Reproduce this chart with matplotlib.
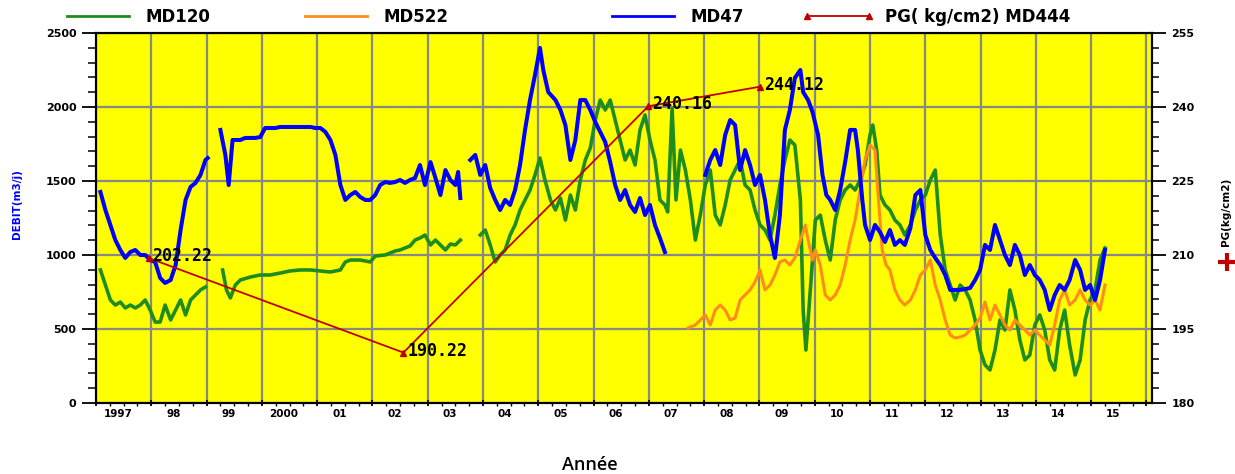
import numpy as np
import matplotlib
matplotlib.use("Agg")
import matplotlib.pyplot as plt
from matplotlib.lines import Line2D
from matplotlib.ticker import MultipleLocator, NullFormatter

nan = float("nan")

# ---------------- data ----------------
md47_years = [1997.08, 1997.17, 1997.26, 1997.35, 1997.44, 1997.53, 1997.62, 1997.71, 1997.80, 1997.89,
              1997.98, 1998.07, 1998.16, 1998.25, 1998.35, 1998.44, 1998.53, 1998.62, 1998.71, 1998.80,
              1998.89, 1998.98, 1999.02, 1999.10,
              1999.25, 1999.34, 1999.40, 1999.47, 1999.61, 1999.70, 1999.79, 1999.88, 1999.97, 2000.06,
              2000.15, 2000.24, 2000.33, 2000.42, 2000.51, 2000.60, 2000.69, 2000.79, 2000.88, 2000.97,
              2001.06, 2001.15, 2001.24, 2001.33, 2001.42, 2001.51, 2001.60, 2001.69, 2001.78, 2001.87,
              2001.96, 2002.05, 2002.14, 2002.23, 2002.32, 2002.41, 2002.50, 2002.59, 2002.68, 2002.77,
              2002.86, 2002.95, 2003.05, 2003.14, 2003.23, 2003.32, 2003.41, 2003.50, 2003.55, 2003.59,
              2003.68,
              2003.77, 2003.86, 2003.95, 2004.04, 2004.13, 2004.22, 2004.31, 2004.40, 2004.49, 2004.58,
              2004.67, 2004.76, 2004.85, 2004.94, 2005.03, 2005.09, 2005.18, 2005.31, 2005.40, 2005.49,
              2005.58, 2005.67, 2005.76, 2005.85, 2005.94, 2006.03, 2006.12, 2006.21, 2006.30, 2006.39,
              2006.48, 2006.57, 2006.66, 2006.75, 2006.84, 2006.93, 2007.02, 2007.11, 2007.20, 2007.29,
              2007.60,
              2008.02, 2008.11, 2008.20, 2008.29, 2008.38, 2008.47, 2008.56, 2008.65, 2008.74, 2008.83,
              2008.92, 2009.01, 2009.10, 2009.19, 2009.28, 2009.37, 2009.46, 2009.55, 2009.64, 2009.74,
              2009.79, 2009.88, 2009.96, 2010.06, 2010.14, 2010.21, 2010.28, 2010.37, 2010.46, 2010.55,
              2010.64, 2010.73, 2010.78, 2010.86, 2010.91, 2011.00, 2011.09, 2011.18, 2011.27, 2011.36,
              2011.45, 2011.54, 2011.63, 2011.73, 2011.82, 2011.91, 2012.00, 2012.09, 2012.18, 2012.27,
              2012.36, 2012.45, 2012.54, 2012.63, 2012.72, 2012.81, 2012.90, 2012.99, 2013.08, 2013.17,
              2013.26, 2013.35, 2013.44, 2013.53, 2013.62, 2013.71, 2013.80, 2013.89, 2013.98, 2014.07,
              2014.16, 2014.25, 2014.34, 2014.43, 2014.52, 2014.61, 2014.71, 2014.80, 2014.89, 2014.98,
              2015.07, 2015.16, 2015.25]
md47_values = [1426, 1304, 1203, 1101, 1034, 980, 1020, 1034, 1000, 1000,
               966, 953, 845, 811, 831, 932, 1169, 1372, 1460, 1487,
               1541, 1642, 1655, nan,
               1845, 1676, 1473, 1777, 1777, 1791, 1791, 1791, 1797, 1858,
               1858, 1858, 1865, 1865, 1865, 1865, 1865, 1865, 1865, 1858,
               1858, 1831, 1777, 1676, 1473, 1372, 1405, 1426, 1392, 1372,
               1372, 1405, 1473, 1493, 1487, 1493, 1507, 1487, 1507, 1520,
               1608, 1473, 1628, 1520, 1405, 1574, 1507, 1473, 1561, 1385,
               nan,
               1642, 1676, 1541, 1608, 1453, 1372, 1304, 1372, 1338, 1439,
               1608, 1845, 2047, 2216, 2399, 2250, 2101, 2047, 1980, 1878,
               1642, 1777, 2047, 2047, 1980, 1899, 1831, 1764, 1628, 1473,
               1372, 1439, 1338, 1291, 1385, 1270, 1338, 1203, 1115, 1020,
               nan,
               1541, 1642, 1709, 1608, 1811, 1912, 1878, 1574, 1709, 1608,
               1473, 1541, 1372, 1135, 980, 1270, 1845, 1980, 2196, 2250,
               2101, 2047, 1966, 1811, 1541, 1405, 1372, 1304, 1439, 1628,
               1845, 1845, 1709, 1372, 1203, 1101, 1203, 1155, 1088, 1169,
               1068, 1101, 1068, 1182, 1405, 1439, 1135, 1034, 980, 932,
               865, 764, 764, 764, 770, 777, 831, 899, 1068, 1034,
               1203, 1101, 1000, 932, 1068, 1000, 865, 932, 865, 831,
               764, 628, 730, 797, 764, 831, 966, 899, 764, 797,
               696, 831, 1034]

md120_years = [1997.08, 1997.17, 1997.26, 1997.35, 1997.44, 1997.53, 1997.62, 1997.71, 1997.80, 1997.89,
               1997.98, 1998.07, 1998.16, 1998.25, 1998.35, 1998.44, 1998.53, 1998.62, 1998.71, 1998.80,
               1998.89, 1998.98, 1999.10,
               1999.29, 1999.36, 1999.43, 1999.52, 1999.61, 1999.79, 1999.97, 2000.15, 2000.33, 2000.51,
               2000.69, 2000.88, 2001.06, 2001.24, 2001.42, 2001.51, 2001.60, 2001.78, 2001.96, 2002.05,
               2002.23, 2002.41, 2002.50, 2002.68, 2002.77, 2002.86, 2002.95, 2003.05, 2003.14, 2003.23,
               2003.32, 2003.41, 2003.50, 2003.59, 2003.77,
               2003.95, 2004.04, 2004.13, 2004.22, 2004.31, 2004.40, 2004.49, 2004.58, 2004.67, 2004.76,
               2004.85, 2004.94, 2005.03, 2005.12, 2005.22, 2005.31, 2005.40, 2005.49, 2005.58, 2005.67,
               2005.76, 2005.85, 2005.94, 2006.03, 2006.12, 2006.21, 2006.30, 2006.39, 2006.48, 2006.57,
               2006.66, 2006.75, 2006.84, 2006.93, 2007.02, 2007.11, 2007.20, 2007.29, 2007.34, 2007.42,
               2007.49, 2007.57, 2007.66, 2007.75, 2007.84, 2007.93, 2008.02, 2008.11, 2008.20, 2008.29,
               2008.38, 2008.47, 2008.56, 2008.65, 2008.74, 2008.83, 2008.92, 2009.01, 2009.10, 2009.19,
               2009.28, 2009.37, 2009.46, 2009.55, 2009.64, 2009.74, 2009.79, 2009.84, 2009.92, 2010.01,
               2010.10, 2010.19, 2010.28, 2010.37, 2010.46, 2010.55, 2010.64, 2010.73, 2010.82, 2010.91,
               2011.00, 2011.05, 2011.12, 2011.18, 2011.27, 2011.36, 2011.45, 2011.54, 2011.63, 2011.73,
               2011.82, 2011.91, 2012.00, 2012.09, 2012.18, 2012.27, 2012.36, 2012.45, 2012.54, 2012.63,
               2012.72, 2012.81, 2012.90, 2012.99, 2013.08, 2013.17, 2013.26, 2013.35, 2013.44, 2013.53,
               2013.62, 2013.71, 2013.80, 2013.89, 2013.98, 2014.07, 2014.16, 2014.25, 2014.34, 2014.43,
               2014.52, 2014.61, 2014.71, 2014.80, 2014.89, 2014.98, 2015.07, 2015.16, 2015.25]
md120_values = [899, 797, 696, 662, 682, 642, 662, 642, 662, 696,
                628, 547, 547, 662, 561, 628, 696, 595, 696, 730,
                764, 784, nan,
                899, 764, 710, 797, 831, 851, 865, 865, 878, 892,
                899, 899, 892, 885, 899, 953, 966, 966, 953, 993,
                1000, 1027, 1034, 1061, 1101, 1115, 1135, 1068, 1101, 1068,
                1034, 1074, 1068, 1101, nan,
                1135, 1169, 1068, 953, 1000, 1034, 1135, 1203, 1304, 1372,
                1439, 1541, 1655, 1507, 1372, 1304, 1385, 1236, 1405, 1304,
                1507, 1642, 1723, 1912, 2047, 1980, 2047, 1912, 1777, 1642,
                1709, 1608, 1845, 1946, 1777, 1642, 1372, 1338, 1291, 1990,
                1372, 1709, 1574, 1372, 1101, 1270, 1473, 1574, 1270, 1203,
                1338, 1507, 1574, 1642, 1473, 1439, 1304, 1203, 1169, 1101,
                1270, 1473, 1642, 1777, 1743, 1372, 628, 358, 764, 1236,
                1270, 1101, 966, 1236, 1372, 1439, 1473, 1439, 1507, 1608,
                1811, 1878, 1709, 1405, 1338, 1304, 1236, 1203, 1135, 1203,
                1304, 1372, 1405, 1507, 1574, 1135, 899, 797, 696, 797,
                764, 696, 561, 358, 257, 223, 358, 561, 493, 764,
                628, 426, 291, 324, 527, 595, 493, 291, 223, 493,
                628, 392, 189, 291, 561, 696, 764, 966, 1047]

md522_years = [2007.71, 2007.84, 2007.93, 2008.02, 2008.11, 2008.20, 2008.29, 2008.38, 2008.47, 2008.56,
               2008.65, 2008.74, 2008.83, 2008.92, 2009.01, 2009.10, 2009.19, 2009.28, 2009.37, 2009.46,
               2009.55, 2009.64, 2009.74, 2009.83, 2009.88, 2009.96, 2010.01, 2010.10, 2010.19, 2010.28,
               2010.37, 2010.46, 2010.55, 2010.64, 2010.73, 2010.82, 2010.91, 2011.00, 2011.09, 2011.14,
               2011.22, 2011.29, 2011.36, 2011.45, 2011.54, 2011.63, 2011.73, 2011.82, 2011.91, 2012.00,
               2012.09, 2012.18, 2012.27, 2012.36, 2012.45, 2012.54, 2012.63, 2012.72, 2012.81, 2012.90,
               2012.99, 2013.08, 2013.17, 2013.26, 2013.35, 2013.44, 2013.53, 2013.62, 2013.71, 2013.80,
               2013.89, 2013.98, 2014.07, 2014.16, 2014.25, 2014.34, 2014.43, 2014.52, 2014.61, 2014.71,
               2014.80, 2014.89, 2014.98, 2015.07, 2015.16, 2015.25]
md522_values = [507, 527, 561, 595, 527, 628, 662, 628, 561, 574,
                696, 730, 764, 818, 899, 764, 797, 865, 953, 966,
                932, 980, 1101, 1203, 1101, 966, 1034, 932, 730, 696,
                730, 797, 932, 1101, 1236, 1439, 1642, 1743, 1709, 1439,
                1034, 932, 899, 764, 696, 662, 696, 764, 865, 899,
                966, 797, 696, 561, 459, 439, 446, 459, 493, 527,
                574, 682, 561, 662, 595, 527, 493, 561, 527, 493,
                459, 493, 459, 426, 392, 527, 696, 764, 662, 696,
                764, 696, 662, 696, 628, 797]

pg_years = [1997.95, 2002.56, 2006.99, 2009.01]
pg_values = [209.4, 190.22, 240.16, 244.12]
pg_labels = ["202.22", "190.22", "240.16", "244.12"]

year_labels = ["1997", "98", "99", "2000", "01", "02", "03", "04", "05", "06",
               "07", "08", "09", "10", "11", "12", "13", "14", "15"]

# ---------------- figure ----------------
W, H = 1235, 474
fig = plt.figure(figsize=(W / 100, H / 100), dpi=100)
ax = fig.add_axes([96 / W, 71 / H, (1152 - 96) / W, (403 - 33) / H])
ax.set_facecolor("#FFFF00")

green = "#1E8C1E"
orange = "#FF8C1A"
blue = "#0000FF"
red = "#C00000"

ax.plot(md120_years, md120_values, color=green, lw=2.6, zorder=3, solid_joinstyle="round")
ax.plot(md522_years, md522_values, color=orange, lw=2.2, zorder=4, solid_joinstyle="round")
ax.plot(md47_years, md47_values, color=blue, lw=2.9, zorder=5, solid_joinstyle="round")

ax.set_xlim(1997.0, 2016.1)
ax.set_ylim(0, 2500)

ax2 = ax.twinx()
ax2.set_ylim(180, 255)
ax2.plot(pg_years, pg_values, color=red, lw=1.3, marker="^", ms=4, zorder=6)
for x, y, t in zip(pg_years, pg_values, pg_labels):
    ax2.text(x + 0.07, y + 0.4, t, fontsize=12, family="DejaVu Sans Mono", fontweight="bold",
             ha="left", va="center", color="black", zorder=7)

# grid
ax.set_axisbelow(True)
ax.xaxis.set_major_locator(MultipleLocator(1))
ax.xaxis.set_minor_locator(MultipleLocator(0.25))
ax.xaxis.set_major_formatter(NullFormatter())
ax.grid(True, which="major", axis="both", color="#888888", lw=1.6)
ax.yaxis.set_major_locator(MultipleLocator(500))
ax.yaxis.set_minor_locator(MultipleLocator(100))
ax2.yaxis.set_major_locator(MultipleLocator(15))
ax2.yaxis.set_minor_locator(MultipleLocator(3))

for a in (ax, ax2):
    for s in a.spines.values():
        s.set_linewidth(1.5)
        s.set_color("black")

ax.tick_params(axis="y", which="major", length=10, width=1.3, direction="out", labelsize=8, pad=4)
ax.tick_params(axis="y", which="minor", length=6, width=1.1, direction="out")
ax2.tick_params(axis="y", which="major", length=10, width=1.3, direction="out", labelsize=8, pad=4)
ax2.tick_params(axis="y", which="minor", length=5, width=1.1, direction="out")
ax.tick_params(axis="x", which="major", length=5, width=1.3, direction="inout")
ax.tick_params(axis="x", which="minor", length=2.5, width=1.0, direction="out")
for lab in ax.get_yticklabels() + ax2.get_yticklabels():
    lab.set_fontweight("bold")

xt = ax.get_xaxis_transform()
for i, lab in enumerate(year_labels):
    ax.text(1997 + i + 0.4, -0.03, lab, transform=xt, ha="center", va="center",
            fontsize=7.5, fontweight="bold")

# axis titles
fig.text(17 / W, 1 - 204 / H, "DEBIT(m3/j)", rotation=90, ha="center", va="center",
         color=blue, fontsize=7.5, fontweight="bold")
fig.text(1226 / W, 1 - 212 / H, "PG(kg/cm2)", rotation=90, ha="center", va="center",
         color="black", fontsize=7.5, fontweight="bold")
fig.add_artist(Line2D([1227 / W], [1 - 262 / H], transform=fig.transFigure, marker="+",
                      ms=13, mew=3, color=red))
fig.text(590 / W, 1 - 465 / H, "Année", ha="center", va="center", fontsize=13,
         family="Open Sans", fontweight="semibold")

# legend entries
entries = [
    (Line2D([], [], color=green, lw=2), "MD120", 62),
    (Line2D([], [], color=orange, lw=2), "MD522", 300),
    (Line2D([], [], color=blue, lw=2), "MD47", 607),
    (Line2D([], [], color=red, lw=1.3, marker="^", ms=4), "PG( kg/cm2) MD444", 802),
]
for h, lbl, xpx in entries:
    fig.legend([h], [lbl], loc="center left", bbox_to_anchor=(xpx / W, 1 - 17 / H),
               frameon=False, handlelength=4.3, handletextpad=0.7, borderpad=0,
               borderaxespad=0, numpoints=2,
               prop=dict(size=12, weight="bold"))

fig.savefig("out.png", dpi=100)
